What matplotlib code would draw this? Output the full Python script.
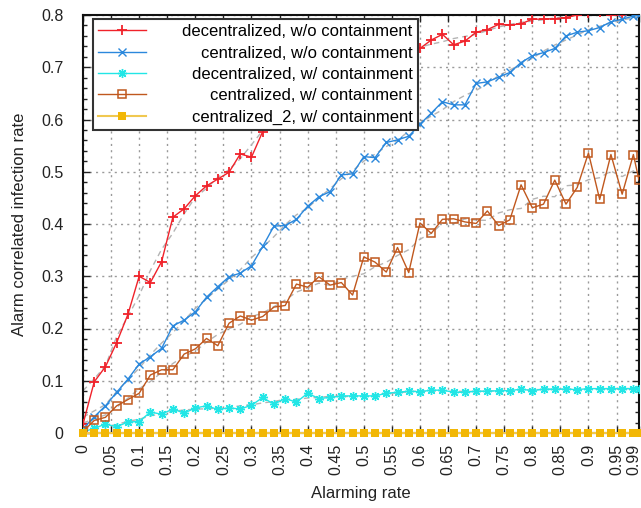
import numpy as np
import matplotlib
matplotlib.use("Agg")
import matplotlib.pyplot as plt
import matplotlib.transforms as mtransforms
from matplotlib.ticker import MultipleLocator, FixedLocator

plt.rcParams['font.family'] = ['Liberation Sans', 'DejaVu Sans']

alarm_rate = [0.00, 0.02, 0.04, 0.06, 0.08, 0.10, 0.12, 0.14, 0.16, 0.18,
              0.20, 0.22, 0.24, 0.26, 0.28, 0.30, 0.32, 0.34, 0.36, 0.38,
              0.40, 0.42, 0.44, 0.46, 0.48, 0.50, 0.52, 0.54, 0.56, 0.58,
              0.60, 0.62, 0.64, 0.66, 0.68, 0.70, 0.72, 0.74, 0.76, 0.78,
              0.80, 0.82, 0.84, 0.86, 0.88, 0.90, 0.92, 0.94, 0.96, 0.98, 0.99]

decentral_wo = [0.017, 0.098, 0.127, 0.173, 0.227, 0.300, 0.288, 0.328, 0.413, 0.429,
                0.454, 0.473, 0.486, 0.499, 0.534, 0.528, 0.577, 0.620, 0.637, 0.629,
                0.640, 0.652, 0.677, 0.677, 0.677, 0.711, 0.706, 0.725, 0.714, 0.727,
                0.736, 0.752, 0.763, 0.743, 0.750, 0.767, 0.772, 0.782, 0.781, 0.783,
                0.792, 0.792, 0.793, 0.795, 0.800, 0.803, 0.805, 0.800, 0.800, 0.805, 0.805]

central_wo = [0.008, 0.031, 0.052, 0.078, 0.103, 0.132, 0.146, 0.162, 0.205, 0.216,
              0.232, 0.260, 0.280, 0.299, 0.306, 0.320, 0.357, 0.396, 0.397, 0.409,
              0.434, 0.452, 0.462, 0.494, 0.496, 0.529, 0.527, 0.556, 0.561, 0.568,
              0.591, 0.612, 0.634, 0.628, 0.628, 0.669, 0.672, 0.681, 0.690, 0.709,
              0.722, 0.728, 0.736, 0.760, 0.767, 0.770, 0.776, 0.787, 0.792, 0.798, 0.800]

decentral_w = [0.002, 0.009, 0.017, 0.012, 0.021, 0.022, 0.040, 0.036, 0.046, 0.038,
               0.048, 0.052, 0.045, 0.048, 0.046, 0.053, 0.068, 0.055, 0.066, 0.059,
               0.076, 0.066, 0.068, 0.071, 0.071, 0.071, 0.071, 0.076, 0.078, 0.080,
               0.079, 0.082, 0.082, 0.078, 0.078, 0.080, 0.080, 0.081, 0.081, 0.084,
               0.081, 0.084, 0.084, 0.084, 0.083, 0.085, 0.085, 0.085, 0.085, 0.085, 0.085]

central_w = [0.003, 0.024, 0.030, 0.052, 0.064, 0.076, 0.111, 0.121, 0.121, 0.151,
             0.161, 0.181, 0.167, 0.210, 0.224, 0.216, 0.223, 0.241, 0.244, 0.285,
             0.279, 0.299, 0.283, 0.288, 0.264, 0.337, 0.327, 0.308, 0.355, 0.307,
             0.402, 0.382, 0.409, 0.410, 0.404, 0.401, 0.425, 0.397, 0.408, 0.475,
             0.431, 0.438, 0.484, 0.438, 0.470, 0.536, 0.447, 0.533, 0.457, 0.533, 0.484]

central2_w = [0.0, 0.0, 0.0, 0.0, 0.0, 0.0, 0.0, 0.0, 0.0, 0.0,
              0.0, 0.0, 0.0, 0.0, 0.0, 0.0, 0.0, 0.0, 0.0, 0.0,
              0.0, 0.0, 0.0, 0.0, 0.0, 0.0, 0.0, 0.0, 0.0, 0.0,
              0.0, 0.0, 0.0, 0.0, 0.0, 0.0, 0.0, 0.0, 0.0, 0.0,
              0.0, 0.0, 0.0, 0.0, 0.0, 0.0, 0.0, 0.0, 0.0, 0.0, 0.0]

labels = ["decentralized, w/o containment", "centralized, w/o containment",
          "decentralized, w/ containment", "centralized, w/ containment",
          "centralized_2, w/ containment"]

xtick_vals = [0, 0.05, 0.1, 0.15, 0.2, 0.25, 0.3, 0.35, 0.4, 0.45, 0.5,
              0.55, 0.6, 0.65, 0.7, 0.75, 0.8, 0.85, 0.9, 0.95, 0.99]
xtick_labels = ["0", "0.05", "0.1", "0.15", "0.2", "0.25", "0.3", "0.35", "0.4",
                "0.45", "0.5", "0.55", "0.6", "0.65", "0.7", "0.75", "0.8",
                "0.85", "0.9", "0.95", "0.99"]
ytick_vals = [0, 0.1, 0.2, 0.3, 0.4, 0.5, 0.6, 0.7, 0.8]
ytick_labels = ["0", "0.1", "0.2", "0.3", "0.4", "0.5", "0.6", "0.7", "0.8"]


def smooth(y, k=5):
    y = np.asarray(y, dtype=float)
    w = np.ones(k)
    return np.convolve(y, w, 'same') / np.convolve(np.ones_like(y), w, 'same')


fig = plt.figure(figsize=(6.41, 5.08), dpi=100)
ax = fig.add_axes([83 / 641, 1 - 433 / 508, 556 / 641, 418 / 508])

x = np.asarray(alarm_rate)

# grey trend lines
for ys in (decentral_wo, central_wo, decentral_w, central_w):
    ax.plot(x, smooth(ys), color='#b4b4b4', lw=1.0, ls=(0, (4, 3)), zorder=2)

red = '#f0222a'
blue = '#2b88dc'
cyan = '#22e6e6'
brown = '#c0581e'
yellow = '#f2b705'

h1, = ax.plot(x, decentral_wo, color=red, lw=1.0, marker='+', ms=7, mew=1.3,
              label=labels[0], zorder=4)
h2, = ax.plot(x, central_wo, color=blue, lw=1.0, marker='x', ms=5.5, mew=1.0,
              label=labels[1], zorder=4)
h3, = ax.plot(x, decentral_w, color=cyan, lw=1.0, marker=(8, 2, 0), ms=6.5, mew=1.0,
              label=labels[2], zorder=4)
h4, = ax.plot(x, central_w, color=brown, lw=1.0, marker='s', ms=5.5, mew=1.1,
              mfc='none', label=labels[3], zorder=4)
h5, = ax.plot(x, central2_w, color='#f0c850', lw=1.5, marker='s', ms=5.5, mew=0,
              mfc=yellow, mec=yellow, label=labels[4], zorder=6, clip_on=False)

ax.set_xlim(0, 0.99)
ax.set_ylim(0, 0.8)
ax.xaxis.set_major_locator(FixedLocator(xtick_vals))
ax.set_xticklabels(xtick_labels, rotation=90, fontsize=11.5)
ax.set_yticks(ytick_vals)
ax.set_yticklabels(ytick_labels, fontsize=11.5)
ax.yaxis.set_minor_locator(MultipleLocator(0.02))
ax.tick_params(axis='both', which='both', direction='in', top=True, right=True,
               colors='#222222', labelcolor='#222222')
ax.tick_params(axis='both', which='major', length=5, width=1)
ax.tick_params(axis='both', which='minor', length=3, width=1)
ax.tick_params(axis='y', which='major', pad=14)
ax.tick_params(axis='x', which='major', pad=8)

# nudge last x label so it stays inside the canvas
last = ax.get_xticklabels()[-1]
last.set_transform(last.get_transform() +
                   mtransforms.ScaledTranslation(-5 / 100, 0, fig.dpi_scale_trans))

ax.grid(True, which='major', color='#9a9a9a', lw=1.0, ls=(0, (1.5, 3)))
ax.set_axisbelow(True)
for s in ax.spines.values():
    s.set_linewidth(1.5)
    s.set_color('#111111')

ax.set_xlabel("Alarming rate", fontsize=12, color='#222222', labelpad=8)
ax.set_ylabel("Alarm correlated infection rate", fontsize=12, color='#222222', labelpad=10)

leg = ax.legend(handles=[h1, h2, h3, h4, h5], loc='upper left',
                bbox_to_anchor=(0.0174, 0.990), borderaxespad=0,
                fontsize=12, numpoints=1, handlelength=2.9, labelspacing=0.38,
                borderpad=0.3, fancybox=False, framealpha=1, edgecolor='#333333')
leg.get_frame().set_linewidth(1.5)
leg.set_zorder(10)
# right-align legend text while keeping handles on the left
for col in leg._legend_handle_box.get_children():
    for row in col.get_children():
        row.mode = 'expand'
        row.width = 315

fig.savefig('out.png', dpi=100)
